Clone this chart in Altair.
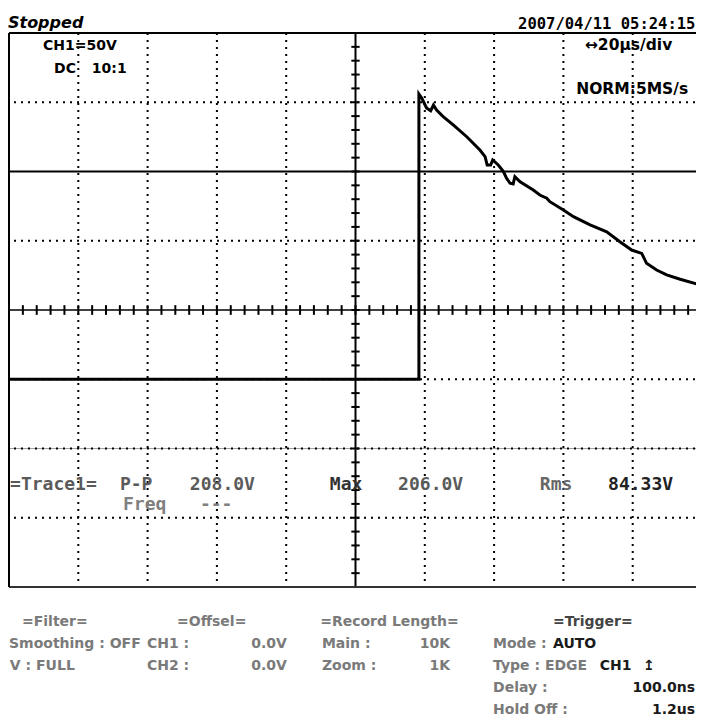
import altair as alt
import pandas as pd

# ---------------- data ----------------
# CH1 trace: time in microseconds (20 us/div), voltage in volts (50 V/div)
trace_t_us = [-2.6, 118.3, 118.3, 119.1, 120.5, 121.7, 122.5, 123.4, 125.3, 128.2,
              132.1, 135.9, 137.4, 138.0, 139.0, 139.6, 141.2, 142.7, 143.6, 144.6,
              145.5, 146.0, 147.5, 151.3, 153.2, 155.2, 156.1, 160.0, 162.9, 167.7,
              172.5, 176.3, 179.7, 182.6, 184.0, 186.9, 189.8, 193.7, 198.5, 199.6,
              200.0]
trace_v = [-50, -50, 156.0, 153.1, 145.9, 143.9, 148.0, 144.4, 139.6, 133.6,
           125.1, 115.5, 110.7, 104.7, 104.7, 108.3, 104.7, 99.9, 95.1, 91.5,
           91.0, 96.2, 92.6, 86.6, 83.0, 80.7, 78.2, 72.2, 67.4, 61.4,
           56.5, 49.3, 43.3, 40.9, 33.7, 28.9, 25.3, 22.2, 18.8, 15.7,
           2.4]
# flat second level line (V)
level_line_v = [100]

# graticule: 10 x 20 us, 8 x 50 V
div_t = [20, 40, 60, 80, 120, 140, 160, 180]
div_v = [150, 50, -50, -100, -150]

# header / readout texts
header_texts = ["Stopped", "2007/04/11  05:24:15"]
screen_texts = ["CH1=50V", "DC", "10:1", "\u219420\u00b5s/div", "NORM:5MS/s"]
meas_texts = ["=Trace1=", "P-P", "208.0V", "Max", "206.0V", "Rms", "84.33V", "Freq", "---"]
panel_texts = ["=Filter=", "=Offsel=", "=Record Length=", "=Trigger=",
               "Smoothing : OFF", "CH1 :", "0.0V", "Main :", "10K", "Mode :", "AUTO",
               "V : FULL", "CH2 :", "0.0V", "Zoom :", "1K", "Type : EDGE", "CH1", "\u21a5",
               "Delay :", "100.0ns", "Hold Off :", "1.2us"]

# ---------------- layout (positions in the chart's own units) ----------------
GRAY = "#7a7a7a"
DARK = "#1a1a1a"
MG = "#5a5a5a"
# (group, t_us, volts, align, color)
header_layout = [("hdr_it", -0.3, 203.6, "left", "black"),
                 ("stamp", 198.1, 202.9, "right", "black")]
screen_layout = [("screen", 9.8, 187.7, "left", "black"),
                 ("screen", 13.0, 171.1, "left", "black"),
                 ("screen", 23.9, 171.1, "left", "black"),
                 ("screen2", 166.2, 187.7, "left", "black"),
                 ("screen2", 196.0, 156.0, "right", "black")]
meas_layout = [("meas", 0.3, -130.0, "left", MG),
               ("meas", 32.0, -130.0, "left", MG),
               ("meas", 52.2, -130.0, "left", MG),
               ("meas", 92.6, -130.0, "left", "#333333"),
               ("meas", 112.3, -130.0, "left", MG),
               ("meas", 153.2, -130.0, "left", "#666666"),
               ("meas", 172.9, -130.0, "left", "#222222"),
               ("meas", 32.9, -144.4, "left", "#808080"),
               ("meas", 55.1, -144.4, "left", "#808080")]
r1, r2, r3, r4, r5 = -228.1, -244.0, -259.9, -275.8, -291.7
panel_layout = [("panel", 3.75, r1, "left", GRAY),
                ("panel", 48.5, r1, "left", GRAY),
                ("panel", 89.8, r1, "left", GRAY),
                ("panel", 157.0, r1, "left", "#444444"),
                ("panel", 0.0, r2, "left", GRAY),
                ("panel", 39.8, r2, "left", GRAY),
                ("panel", 80.2, r2, "right", GRAY),
                ("panel", 90.3, r2, "left", GRAY),
                ("panel", 127.3, r2, "right", GRAY),
                ("panel", 139.7, r2, "left", GRAY),
                ("panel", 157.0, r2, "left", DARK),
                ("panel", 19.0, r3, "right", GRAY),
                ("panel", 39.8, r3, "left", GRAY),
                ("panel", 80.2, r3, "right", GRAY),
                ("panel", 90.3, r3, "left", GRAY),
                ("panel", 127.3, r3, "right", GRAY),
                ("panel", 139.7, r3, "left", GRAY),
                ("panel", 170.5, r3, "left", DARK),
                ("panel", 183.0, r3, "left", DARK),
                ("panel", 139.7, r4, "left", GRAY),
                ("panel", 198.0, r4, "right", DARK),
                ("panel", 139.7, r5, "left", GRAY),
                ("panel", 198.0, r5, "right", DARK)]

groups = {
    "hdr_it": dict(font="DejaVu Sans", fontSize=16, fontWeight="bold", fontStyle="italic"),
    "stamp": dict(font="DejaVu Sans Mono", fontSize=15.5, fontWeight="bold"),
    "screen": dict(font="DejaVu Sans", fontSize=14, fontWeight="bold"),
    "screen2": dict(font="DejaVu Sans", fontSize=15.5, fontWeight="bold"),
    "meas": dict(font="DejaVu Sans Mono", fontSize=18, fontWeight="bold"),
    "panel": dict(font="DejaVu Sans", fontSize=14, fontWeight="bold"),
}

rows = []
for texts, layout in [(header_texts, header_layout), (screen_texts, screen_layout),
                      (meas_texts, meas_layout), (panel_texts, panel_layout)]:
    for txt, (g, t, v, al, col) in zip(texts, layout):
        rows.append(dict(text=txt, t=t, v=v, group=g, align=al, color=col))
text_df = pd.DataFrame(rows)

# ---------------- chart ----------------
xs = alt.Scale(domain=[0, 200], nice=False, zero=False)
ys = alt.Scale(domain=[-200, 200], nice=False, zero=False)


def X(f):
    return alt.X(f, type="quantitative", scale=xs, axis=None)


def Y(f):
    return alt.Y(f, type="quantitative", scale=ys, axis=None)


layers = []

# measurement box top (faint solid)
layers.append(alt.Chart(pd.DataFrame({"v": [-100]})).mark_rule(
    color="#a0a0a0", strokeWidth=1).encode(y=Y("v")))

# dotted graticule
layers.append(alt.Chart(pd.DataFrame({"t": div_t})).mark_rule(
    color="black", strokeWidth=2, strokeDash=[2, 5]).encode(x=X("t")))
layers.append(alt.Chart(pd.DataFrame({"v": div_v})).mark_rule(
    color="black", strokeWidth=2, strokeDash=[2, 5]).encode(y=Y("v")))

# centre cross with minor ticks
layers.append(alt.Chart(pd.DataFrame({"t": [100]})).mark_rule(
    color="black", strokeWidth=2).encode(x=X("t")))
layers.append(alt.Chart(pd.DataFrame({"v": [0]})).mark_rule(
    color="black", strokeWidth=1.5).encode(y=Y("v")))
tick_t = [i * 4 for i in range(1, 50)]
layers.append(alt.Chart(pd.DataFrame({"t": tick_t, "a": [-3.5] * len(tick_t), "b": [3.5] * len(tick_t)}))
              .mark_rule(color="black", strokeWidth=2)
              .encode(x=X("t"), y=Y("a"), y2="b"))
tick_v = [i * 10 for i in range(-19, 20)]
layers.append(alt.Chart(pd.DataFrame({"v": tick_v, "a": [98.8] * len(tick_v), "b": [101.2] * len(tick_v)}))
              .mark_rule(color="black", strokeWidth=2)
              .encode(y=Y("v"), x=X("a"), x2="b"))

# screen border (top, left, bottom)
layers.append(alt.Chart(pd.DataFrame({"v": [200]})).mark_rule(
    color="black", strokeWidth=2).encode(y=Y("v")))
layers.append(alt.Chart(pd.DataFrame({"v": [-200]})).mark_rule(
    color="#333333", strokeWidth=2).encode(y=Y("v")))
layers.append(alt.Chart(pd.DataFrame({"t": [0]})).mark_rule(
    color="black", strokeWidth=2).encode(x=X("t")))

# flat level line
layers.append(alt.Chart(pd.DataFrame({"t0": [-2.6], "t1": [200], "v": level_line_v}))
              .mark_rule(color="black", strokeWidth=2)
              .encode(x=X("t0"), x2="t1", y=Y("v")))

# trace
trace_df = pd.DataFrame({"t": trace_t_us, "v": trace_v, "i": range(len(trace_t_us))})
layers.append(alt.Chart(trace_df).mark_line(color="black", strokeWidth=3, strokeJoin="miter")
              .encode(x=X("t"), y=Y("v"), order="i:Q"))

# texts
for (g, al), sub in text_df.groupby(["group", "align"]):
    layers.append(alt.Chart(sub).mark_text(align=al, baseline="alphabetic", **groups[g])
                  .encode(x=X("t"), y=Y("v"), text="text:N",
                          color=alt.Color("color:N", scale=None)))

chart = alt.layer(*layers).properties(
    width=693, height=554,
    autosize=alt.AutoSizeParams(type="none"),
    padding={"left": 1, "top": 25, "right": -6, "bottom": 137},
    background="white",
).configure_view(stroke=None)

chart.save("out.html", embed_options={"renderer": "svg", "actions": False})
